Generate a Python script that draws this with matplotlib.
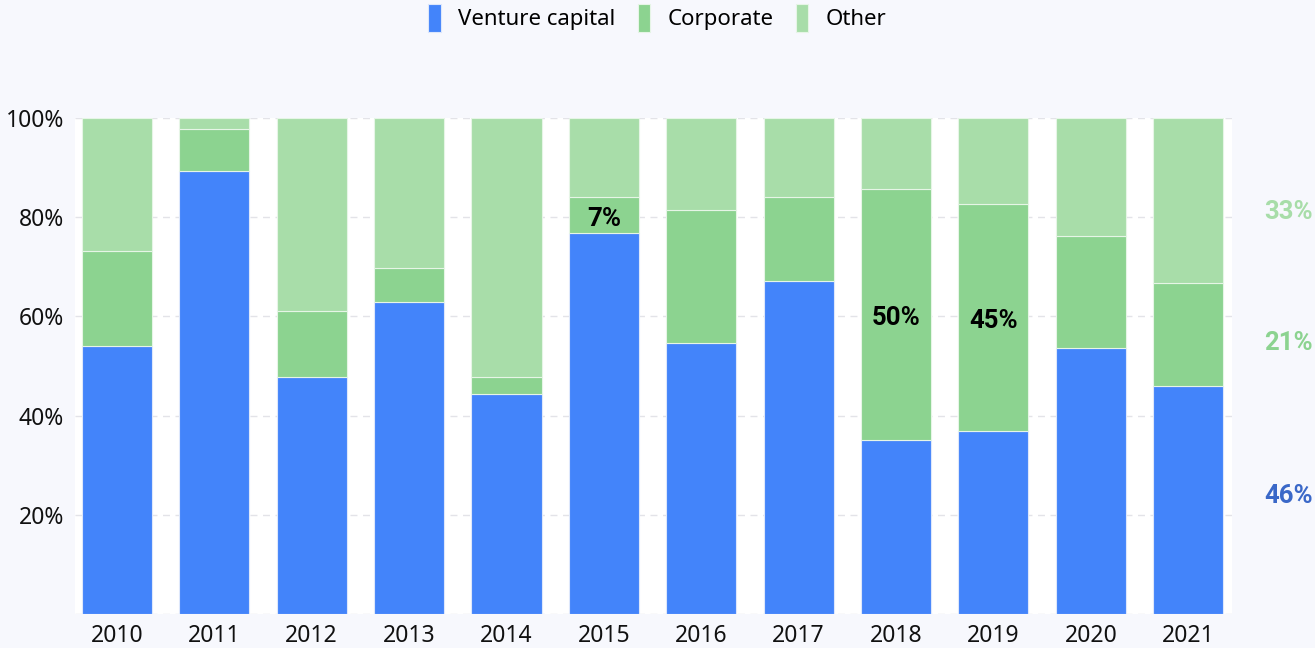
import numpy as np
import matplotlib.pyplot as plt

years = ['2010', '2011', '2012', '2013', '2014', '2015',
         '2016', '2017', '2018', '2019', '2020', '2021']
venture = [54.0, 89.3, 47.8, 62.9, 44.4, 76.8, 54.6, 67.1, 35.1, 36.9, 53.6, 46.0]
corporate = [19.2, 8.5, 13.3, 6.9, 3.4, 7.3, 26.9, 17.0, 50.6, 45.8, 22.6, 20.7]
other = [26.8, 2.2, 38.9, 30.2, 52.2, 15.9, 18.5, 15.9, 14.3, 17.3, 23.8, 33.3]

# labels shown inside bars (corporate share)
inner_labels = {'2015': '7%', '2018': '50%', '2019': '45%'}
# labels on the right for the last year
last_labels = ['46%', '21%', '33%']

C_VC = '#4384FA'
C_CORP = '#8CD390'
C_OTHER = '#A8DDA9'
C_VC_TXT = '#3A68C8'

plt.rcParams['font.family'] = ['Noto Sans', 'DejaVu Sans']
BOLD = ['Roboto', 'DejaVu Sans']

fig = plt.figure(figsize=(13.15, 6.48), dpi=100)
fig.patch.set_facecolor('#F7F8FD')
ax = fig.add_axes([75 / 1315, 34 / 648, (1232 - 75) / 1315, (614 - 118) / 648])
ax.set_facecolor('white')

x = np.arange(len(years))
vc = np.array(venture)
co = np.array(corporate)
ot = np.array(other)
w = 0.72
ax.bar(x, vc, w, color=C_VC, edgecolor='#DDE7FB', linewidth=0.8, label='Venture capital', zorder=2)
ax.bar(x, co, w, bottom=vc, color=C_CORP, edgecolor='#E6F5E6', linewidth=0.8, label='Corporate', zorder=2)
ax.bar(x, ot, w, bottom=vc + co, color=C_OTHER, edgecolor='#E6F5E6', linewidth=0.8, label='Other', zorder=2)

for i, y in enumerate(years):
    if y in inner_labels:
        ax.text(i, vc[i] + co[i] / 2 - 0.8, inner_labels[y], ha='center', va='center',
                fontsize=18.5, fontweight='bold', family=BOLD, color='black', zorder=3)

# right side labels
i = len(years) - 1
right_y = [vc[i] / 2 + 0.8, vc[i] + co[i] / 2 - 1.7, vc[i] + co[i] + ot[i] / 2 - 2.3]
right_c = [C_VC_TXT, C_CORP, C_OTHER]
for lab, yy, cc in zip(last_labels, right_y, right_c):
    ax.text(12.03, yy, lab, ha='center', va='center', fontsize=18.5,
            fontweight='bold', family=BOLD, color=cc, clip_on=False)

ax.set_xlim(-0.43, 11.45)
ax.set_ylim(0, 100)
ax.set_xticks(x)
ax.set_xticklabels(years)
ax.set_yticks([0, 20, 40, 60, 80, 100])
ax.set_yticklabels(['', '20%', '40%', '60%', '80%', '100%'])
ax.tick_params(axis='both', length=0, labelsize=16.5, colors='#111111')
ax.tick_params(axis='x', pad=7)
ax.tick_params(axis='y', pad=8)
ax.grid(axis='y', color='#E3E3E8', linestyle=(0, (5, 4)), linewidth=1, zorder=0)
for s in ax.spines.values():
    s.set_visible(False)

fig.legend(loc='upper center', bbox_to_anchor=(0.5, 1.025), ncol=3, frameon=False,
           fontsize=16, handlelength=0.55, handleheight=1.6, handletextpad=0.8,
           columnspacing=1.0)

fig.savefig('out.png', dpi=100, facecolor=fig.get_facecolor())
